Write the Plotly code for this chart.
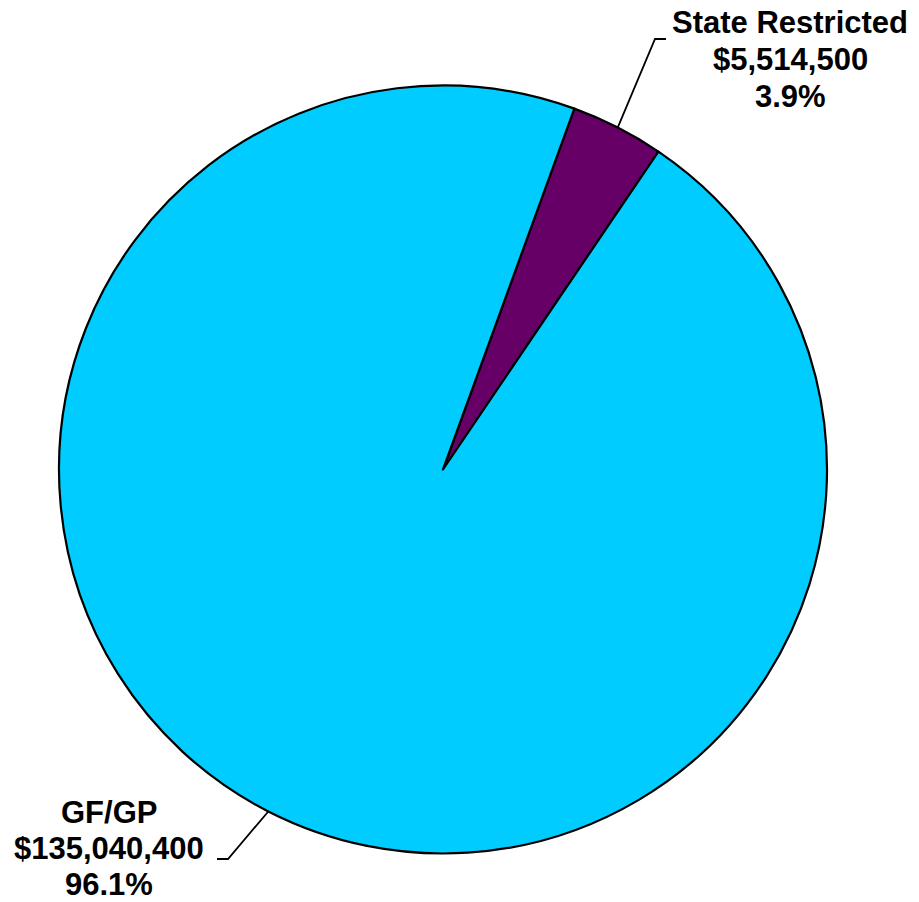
import math
import plotly.graph_objects as go

# ---- data ----
categories = ["State Restricted", "GF/GP"]
amounts = [5514500, 135040400]
percent_labels = ["3.9%", "96.1%"]
amount_labels = ["$5,514,500", "$135,040,400"]
colors = ["#660066", "#00CCFF"]

# ---- layout constants (pixels) ----
W, H = 919, 902
CX, CY, R = 443, 469.5, 384
ROTATION = 20  # degrees clockwise from 12 o'clock where first slice starts
FONT = "Liberation Sans, Arial, sans-serif"
FSIZE = 31
LINE_GAPS = [37, 36]
# label block center (x, y of first line) and leader elbow/end points in px
label_pos = [(790, 22), (109, 812)]
elbows = [((655, 39), (666, 39)), ((228, 859), (217, 859))]


def px2paper(x, y):
    return x / W, 1 - y / H


fig = go.Figure()
fig.add_trace(go.Pie(
    labels=categories,
    values=amounts,
    sort=False,
    direction="clockwise",
    rotation=ROTATION,
    marker=dict(colors=colors, line=dict(color="black", width=2.2)),
    textinfo="none",
    hoverinfo="label+value+percent",
    showlegend=False,
    domain=dict(x=[(CX - R) / W, (CX + R) / W],
                y=[1 - (CY + R) / H, 1 - (CY - R) / H]),
))

total = sum(amounts)
shapes = []
annotations = []
cum = 0
for i, cat in enumerate(categories):
    frac = amounts[i] / total
    mid = math.radians(ROTATION + 360 * (cum + frac / 2))
    cum += frac
    ex, ey = CX + R * math.sin(mid), CY - R * math.cos(mid)
    (bx, by), (tx, ty) = elbows[i]
    p0 = px2paper(ex, ey)
    p1 = px2paper(bx, by)
    p2 = px2paper(tx, ty)
    shapes.append(dict(
        type="path", xref="paper", yref="paper",
        path=f"M {p0[0]} {p0[1]} L {p1[0]} {p1[1]} L {p2[0]} {p2[1]}",
        line=dict(color="black", width=1.8),
    ))
    lx, ly = label_pos[i]
    for j, txt in enumerate([cat, amount_labels[i], percent_labels[i]]):
        ax_, ay_ = px2paper(lx, ly + j * LINE_GAPS[i])
        annotations.append(dict(
            x=ax_, y=ay_, xref="paper", yref="paper",
            text=f"<b>{txt}</b>", showarrow=False,
            xanchor="center", yanchor="middle",
            font=dict(family=FONT, size=FSIZE, color="black"),
        ))

fig.update_layout(
    width=W, height=H,
    margin=dict(l=0, r=0, t=0, b=0),
    paper_bgcolor="white", plot_bgcolor="white",
    shapes=shapes, annotations=annotations,
)
fig.write_html(
    "out.html",
    config={"displayModeBar": False},
    post_script="document.body.style.margin='0';document.body.style.overflow='hidden';",
)
